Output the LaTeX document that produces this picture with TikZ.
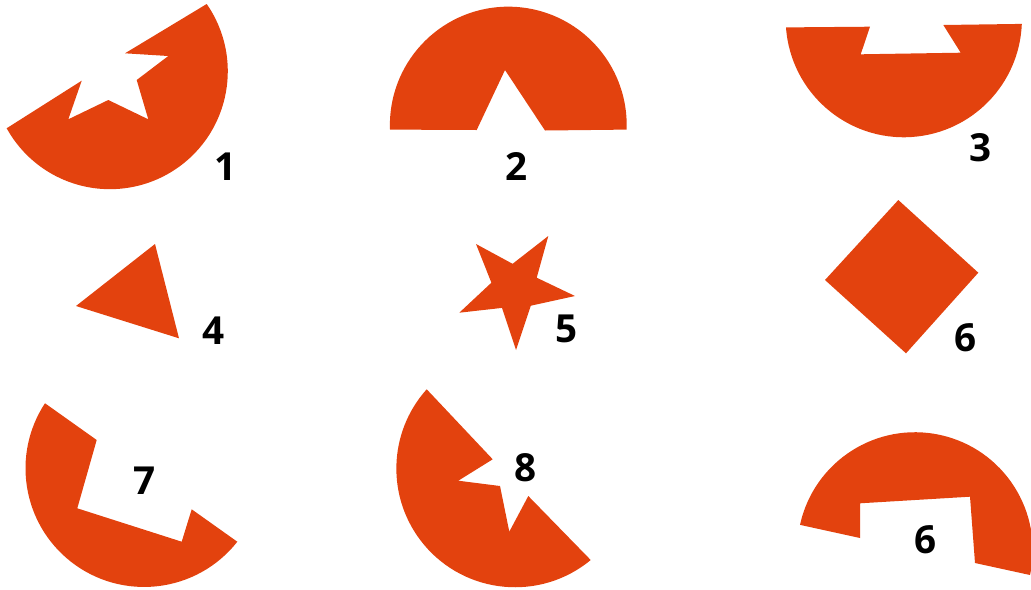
\documentclass[tikz,border=0pt]{standalone}
\usepackage{fontspec}
\setsansfont{Open Sans}
\usetikzlibrary{calc}
\definecolor{PieceRed}{RGB}{227,66,14}
\tikzset{
  piece/.style={fill=PieceRed},
  num/.style={font=\sffamily\bfseries\fontsize{22}{26}\selectfont,inner sep=0pt}
}

\begin{document}
\begin{tikzpicture}[x=0.02cm,y=-0.02cm]
    \useasboundingbox (0,0) rectangle (1031,589);
    % row 1
    \fill[piece] (206.7,4) arc[start angle=-34.8,end angle=151.1,radius=117.9]
      -- (81.7,80.7) -- (68.3,119.3) -- (108.3,100) -- (148.3,119.3)
      -- (136.7,80) -- (168.3,56) -- (125,53.3) -- cycle;
    \fill[piece] (390,129.6) arc[start angle=177.8,end angle=362.2,radius=118.4]
      -- (545,130.5) -- (505,70) -- (476.7,130) -- cycle;
    \fill[piece] (786,27.4) arc[start angle=176,end angle=2.3,radius=118.1]
      -- (943.3,25) -- (960.7,52.7) -- (860.7,54.3) -- (870,26.7) -- cycle;
    \node[num] (lab1) at (225.8,166.7) {1};
    \node[num] (lab2) at (516.7,166.7) {2};
    \node[num] (lab3) at (980.8,147.5) {3};
    % row 2
    \fill[piece] (155,244) -- (76,306) -- (179,338.3) -- cycle;
    \fill[piece] (548.3,236) -- (536.7,277.7) -- (575,296) -- (530.8,305.7)
      -- (516,350) -- (502,307.9) -- (459.3,312.7) -- (491.4,282.7)
      -- (476,244) -- (512.6,263.8) -- cycle;
    \fill[piece] (898.3,200) -- (978.3,272.7) -- (906,353.3) -- (825,280) -- cycle;
    \node[num] (lab4) at (213.3,330.8) {4};
    \node[num] (lab5) at (566.7,329.2) {5};
    \node[num] (lab6) at (965.8,337.5) {6};
    % row 3
    \fill[piece] (237.3,541.7) arc[start angle=38.2,end angle=213.3,radius=118.6]
      -- (96.7,440) -- (77.3,508.3) -- (181.7,541.7) -- (191.7,509.3) -- cycle;
    \fill[piece] (590.7,560) arc[start angle=50.4,end angle=221.9,radius=118.7]
      -- (492.7,459.3) -- (458.3,480.7) -- (500,486) -- (509.3,531.7)
      -- (528.3,496) -- cycle;
    \fill[piece] (1030,575) arc[start angle=12.3,end angle=-167.7,radius=117.7]
      -- (860,538) -- (860,503.3) -- (970,496.7) -- (975,563) -- cycle;
    \node[num] (lab7) at (145,480.8) {7};
    \node[num] (lab8) at (525.8,467.5) {8};
    \node[num] (lab9) at (925.8,540) {6};
\end{tikzpicture}
\end{document}
